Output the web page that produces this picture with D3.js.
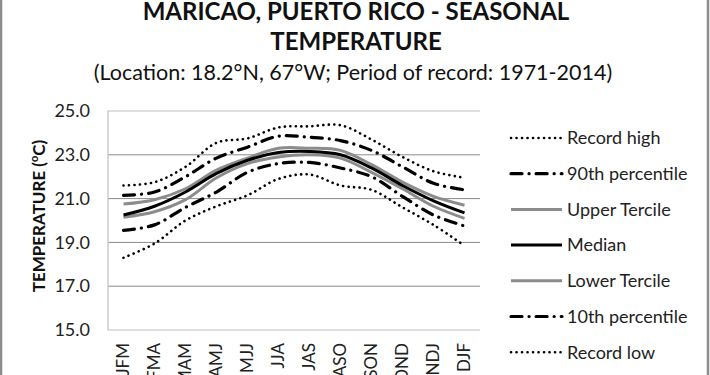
<!DOCTYPE html>
<html><head><meta charset="utf-8">
<script src="https://cdn.jsdelivr.net/npm/d3@7"></script>
<style>body{margin:0;background:#fff;} svg{display:block;font-family:Lato,'Open Sans',sans-serif;}</style>
</head><body>
<svg id="c" width="710" height="375"></svg>
<script>
const categories = ["JFM","FMA","MAM","AMJ","MJJ","JJA","JAS","ASO","SON","OND","NDJ","DJF"];
const recordHigh = [21.6,21.75,22.45,23.55,23.75,24.25,24.3,24.35,23.7,22.9,22.25,21.95];
const p90 = [21.15,21.3,22.0,22.85,23.35,23.85,23.8,23.65,23.2,22.45,21.7,21.4];
const upperTercile = [20.75,20.95,21.45,22.3,22.85,23.3,23.3,23.2,22.55,21.75,21.1,20.7];
const median = [20.25,20.65,21.3,22.15,22.75,23.1,23.15,23.0,22.4,21.6,20.9,20.35];
const lowerTercile = [20.15,20.4,20.95,21.95,22.6,22.9,23.0,22.85,22.2,21.45,20.65,20.1];
const p10 = [19.55,19.8,20.6,21.3,22.2,22.6,22.65,22.4,22.0,21.1,20.25,19.75];
const recordLow = [18.3,18.95,20.0,20.65,21.15,21.9,22.1,21.6,21.4,20.6,19.8,18.85];
const yTicks = [15,17,19,21,23,25];

const series = [
  {name:"Record high", values:recordHigh, color:"#000", width:2.6, dash:"0.1 5.4", cap:"round"},
  {name:"90th percentile", values:p90, color:"#000", width:3.2, dash:"11 7 0.1 7", cap:"round"},
  {name:"Upper Tercile", values:upperTercile, color:"#8c8c8c", width:3, dash:null, cap:"butt"},
  {name:"Median", values:median, color:"#000", width:3, dash:null, cap:"butt"},
  {name:"Lower Tercile", values:lowerTercile, color:"#8c8c8c", width:3, dash:null, cap:"butt"},
  {name:"10th percentile", values:p10, color:"#000", width:3.2, dash:"11 7 0.1 7", cap:"round"},
  {name:"Record low", values:recordLow, color:"#000", width:2.6, dash:"0.1 5.4", cap:"round"}
];

const svg = d3.select("#c");
const W=710,H=375;
svg.append("rect").attr("x",1).attr("y",-2).attr("width",W-3).attr("height",H+4)
  .attr("fill","#fff").attr("stroke","#8c8c8c").attr("stroke-width",2.5);

const L=108,R=480,T=111,B=330;
const x = d3.scaleBand().domain(categories).range([L,R]);
const y = d3.scaleLinear().domain([15,25]).range([B,T]);

svg.append("g").selectAll("line").data(yTicks.filter(v=>v>15&&v<25)).join("line")
  .attr("x1",L).attr("x2",R).attr("y1",d=>y(d)).attr("y2",d=>y(d))
  .attr("stroke","#8a8a8a").attr("stroke-width",1);
svg.append("path").attr("d",`M${R},${y(25)}H${L}V${B}H${R}`).attr("fill","none")
  .attr("stroke","#c0c0c0").attr("stroke-width",1.2);

const ya = svg.append("g").attr("transform",`translate(${L},0)`)
  .call(d3.axisLeft(y).tickValues(yTicks).tickFormat(d3.format(".1f")).tickSize(0).tickPadding(18));
ya.select(".domain").remove();
ya.selectAll("text").attr("font-size",18).attr("fill","#222").attr("font-family","Lato,'Open Sans',sans-serif");

const xa = svg.append("g").attr("transform",`translate(0,${B})`)
  .call(d3.axisBottom(x).tickSize(0));
xa.select(".domain").remove();
xa.selectAll("text").attr("font-size",17).attr("fill","#222").attr("font-family","Lato,'Open Sans',sans-serif")
  .attr("transform","rotate(-90)").attr("text-anchor","end").attr("dy","0.35em").attr("x",-13).attr("y",0);

const yt = svg.append("text").attr("transform","translate(45,216) rotate(-90)")
  .attr("text-anchor","middle").attr("font-weight","bold").attr("font-size",17).attr("fill","#111");
yt.append("tspan").text("TEMPERATURE (");
yt.append("tspan").text("o").attr("font-size",11).attr("dy","-7");
yt.append("tspan").text("C)").attr("dy","7");

svg.append("text").attr("x",356).attr("y",20).attr("text-anchor","middle").attr("font-weight","bold")
  .attr("font-size",24).attr("fill","#111").text("MARICAO, PUERTO RICO - SEASONAL");
svg.append("text").attr("x",356).attr("y",50).attr("text-anchor","middle").attr("font-weight","bold")
  .attr("font-size",24).attr("fill","#111").text("TEMPERATURE");
svg.append("text").attr("x",353).attr("y",80).attr("text-anchor","middle")
  .attr("font-size",21.5).attr("fill","#111").text("(Location: 18.2°N, 67°W; Period of record: 1971-2014)");

const line = d3.line().x((d,i)=>x(categories[i])+x.bandwidth()/2).y(d=>y(d)).curve(d3.curveCatmullRom.alpha(0.5));
const order = [0,1,2,4,3,5,6];
order.forEach(i=>{
  const s=series[i];
  svg.append("path").datum(s.values).attr("d",line).attr("fill","none")
    .attr("stroke",s.color).attr("stroke-width",s.width)
    .attr("stroke-dasharray",s.dash).attr("stroke-linecap",s.cap);
});

const lg = svg.append("g");
series.forEach((s,i)=>{
  const yy = 138 + i*35.7;
  lg.append("line").attr("x1",511).attr("x2",562).attr("y1",yy).attr("y2",yy)
    .attr("stroke",s.color).attr("stroke-width",s.width)
    .attr("stroke-dasharray",s.dash).attr("stroke-linecap",s.cap);
  lg.append("text").attr("x",567).attr("y",yy).attr("dy","0.35em").attr("font-size",18)
    .attr("fill","#222").text(s.name);
});
</script>
</body></html>
